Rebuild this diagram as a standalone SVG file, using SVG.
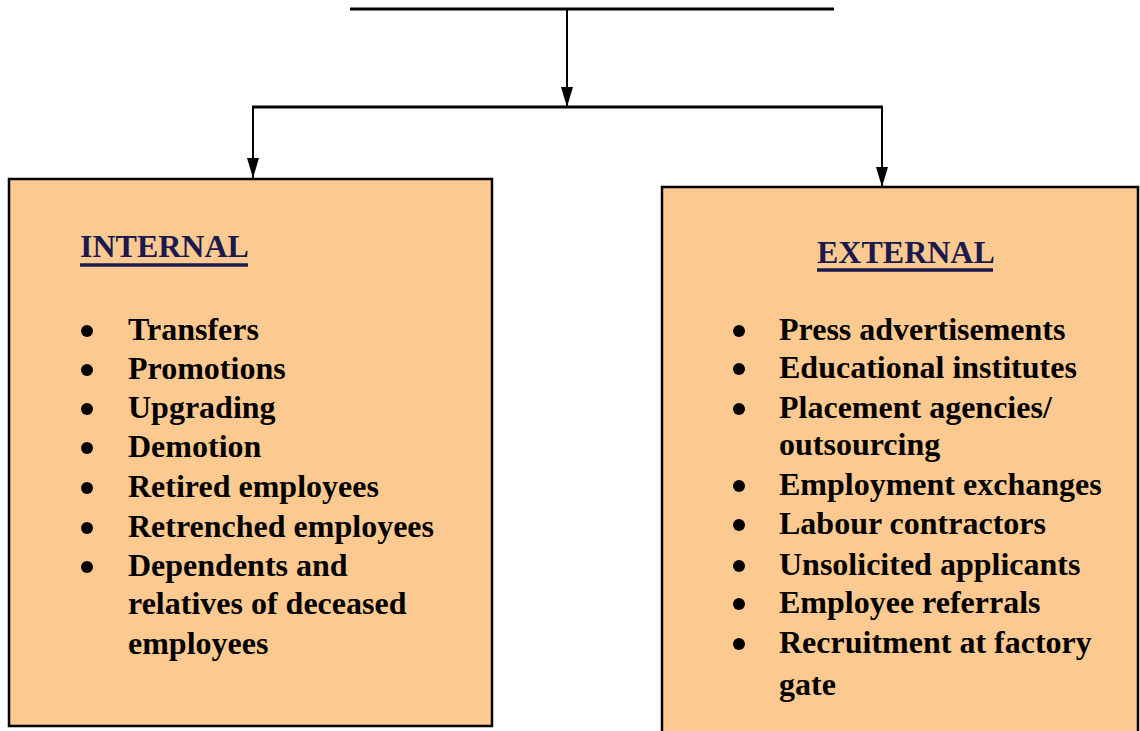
<svg xmlns="http://www.w3.org/2000/svg" width="1140" height="731" viewBox="0 0 1140 731">
<defs>
<marker id="arr" viewBox="0 0 20 12" refX="20" refY="6" markerWidth="20" markerHeight="12" markerUnits="userSpaceOnUse" orient="auto">
<path d="M0,0 L20,6 L0,12 Z" fill="#000"/>
</marker>
<style>
.box{fill:#FCCA90;stroke:#000;stroke-width:2.5}
.t{font-family:"Liberation Serif","Times New Roman",serif;font-weight:bold;font-size:32px;fill:#000}
.h{font-family:"Liberation Serif","Times New Roman",serif;font-weight:bold;font-size:32px;fill:#1a1a4e}
.ul{stroke:#1a1a4e;stroke-width:3.5}
.line{stroke:#000;fill:none}
</style>
</defs>
<rect width="1140" height="731" fill="#fff"/>
<g id="connectors">
<line class="line" x1="350" y1="9" x2="834" y2="9" stroke-width="3"/>
<line class="line" x1="567" y1="9" x2="567" y2="107" stroke-width="2" marker-end="url(#arr)"/>
<line class="line" x1="252" y1="107" x2="883" y2="107" stroke-width="3"/>
<line class="line" x1="253" y1="107" x2="253" y2="178" stroke-width="2" marker-end="url(#arr)"/>
<line class="line" x1="882" y1="107" x2="882" y2="187" stroke-width="2" marker-end="url(#arr)"/>
</g>
<g id="internal">
<rect class="box" x="9" y="179" width="483" height="547"/>
<text class="h" x="80" y="257">INTERNAL</text>
<line class="ul" x1="80" y1="265" x2="248" y2="265"/>
<g fill="#000">
<circle cx="87" cy="331" r="6"/><circle cx="87" cy="370" r="6"/><circle cx="87" cy="409" r="6"/><circle cx="87" cy="448" r="6"/><circle cx="87" cy="488" r="6"/><circle cx="87" cy="528" r="6"/><circle cx="87" cy="567" r="6"/>
</g>
<text class="t" x="128" y="340">Transfers</text>
<text class="t" x="128" y="379">Promotions</text>
<text class="t" x="128" y="418">Upgrading</text>
<text class="t" x="128" y="457">Demotion</text>
<text class="t" x="128" y="497">Retired employees</text>
<text class="t" x="128" y="537">Retrenched employees</text>
<text class="t" x="128" y="576">Dependents and</text>
<text class="t" x="128" y="614">relatives of deceased</text>
<text class="t" x="128" y="654">employees</text>
</g>
<g id="external">
<rect class="box" x="662" y="187" width="476" height="560"/>
<text class="h" x="817" y="263">EXTERNAL</text>
<line class="ul" x1="817" y1="270" x2="993" y2="270"/>
<g fill="#000">
<circle cx="739" cy="331" r="6"/><circle cx="739" cy="369" r="6"/><circle cx="739" cy="409" r="6"/><circle cx="739" cy="486" r="6"/><circle cx="739" cy="525" r="6"/><circle cx="739" cy="566" r="6"/><circle cx="739" cy="604" r="6"/><circle cx="739" cy="644" r="6"/>
</g>
<text class="t" x="779" y="340">Press advertisements</text>
<text class="t" x="779" y="378">Educational institutes</text>
<text class="t" x="779" y="418">Placement agencies/</text>
<text class="t" x="779" y="455">outsourcing</text>
<text class="t" x="779" y="495">Employment exchanges</text>
<text class="t" x="779" y="534">Labour contractors</text>
<text class="t" x="779" y="575">Unsolicited applicants</text>
<text class="t" x="779" y="613">Employee referrals</text>
<text class="t" x="779" y="653">Recruitment at factory</text>
<text class="t" x="779" y="695">gate</text>
</g>
</svg>
